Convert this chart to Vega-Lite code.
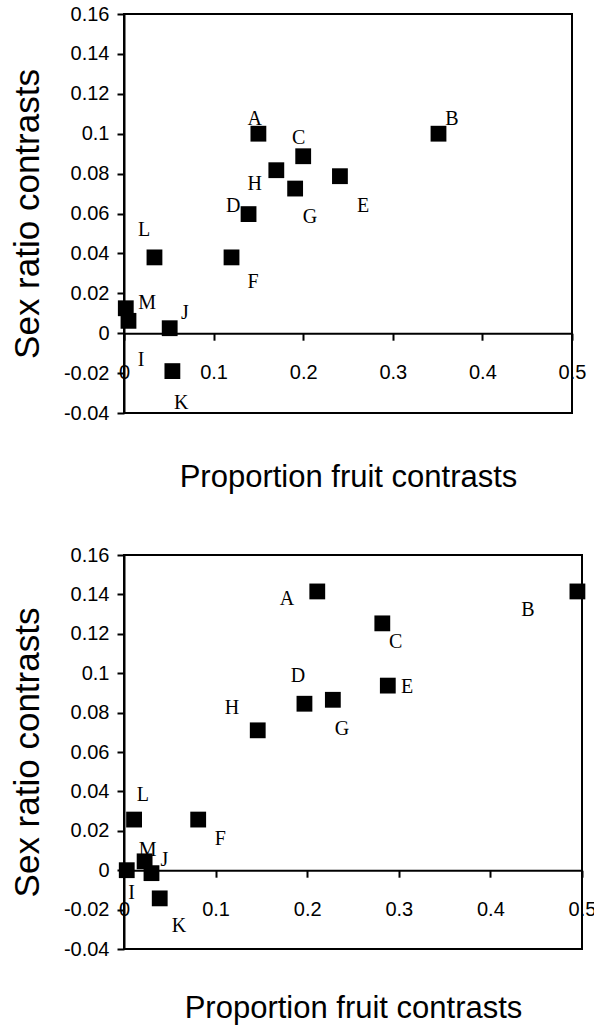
{
  "$schema": "https://vega.github.io/schema/vega-lite/v6.json",
  "background": "white",
  "padding": {"left": 9, "top": 3, "right": 0, "bottom": 5},
  "spacing": 50,
  "config": {
    "view": {"stroke": "black", "strokeWidth": 2},
    "axis": {
      "grid": false,
      "domainColor": "black",
      "domainWidth": 2,
      "tickColor": "black",
      "tickWidth": 2,
      "tickSize": 7,
      "labelColor": "black",
      "titleColor": "black",
      "labelFont": "Liberation Sans",
      "titleFont": "Liberation Sans",
      "titleFontWeight": "normal",
      "labelFontSize": 20
    }
  },
  "datasets": {
    "top": [
      {"label": "A", "x": 0.15, "y": 0.1, "lx": 0.146, "ly": 0.1076},
      {"label": "B", "x": 0.351, "y": 0.1, "lx": 0.366, "ly": 0.1076},
      {"label": "C", "x": 0.2, "y": 0.0887, "lx": 0.195, "ly": 0.0979},
      {"label": "D", "x": 0.139, "y": 0.0597, "lx": 0.122, "ly": 0.0636},
      {"label": "E", "x": 0.241, "y": 0.0787, "lx": 0.267, "ly": 0.0636},
      {"label": "F", "x": 0.12, "y": 0.038, "lx": 0.144, "ly": 0.0256},
      {"label": "G", "x": 0.191, "y": 0.0725, "lx": 0.2075, "ly": 0.0581},
      {"label": "H", "x": 0.17, "y": 0.0817, "lx": 0.146, "ly": 0.0748},
      {"label": "I", "x": 0.005, "y": 0.0062, "lx": 0.019, "ly": -0.0134},
      {"label": "J", "x": 0.051, "y": 0.0025, "lx": 0.068, "ly": 0.01},
      {"label": "K", "x": 0.054, "y": -0.019, "lx": 0.0638, "ly": -0.0351},
      {"label": "L", "x": 0.034, "y": 0.038, "lx": 0.0224, "ly": 0.0519},
      {"label": "M", "x": 0.002, "y": 0.0125, "lx": 0.0258, "ly": 0.0151}
    ],
    "bottom": [
      {"label": "A", "x": 0.211, "y": 0.1415, "lx": 0.178, "ly": 0.1377},
      {"label": "B", "x": 0.495, "y": 0.1415, "lx": 0.441, "ly": 0.132},
      {"label": "C", "x": 0.282, "y": 0.1253, "lx": 0.2967, "ly": 0.1157},
      {"label": "D", "x": 0.197, "y": 0.0845, "lx": 0.19, "ly": 0.0988},
      {"label": "E", "x": 0.288, "y": 0.0937, "lx": 0.309, "ly": 0.0932},
      {"label": "F", "x": 0.081, "y": 0.0257, "lx": 0.1052, "ly": 0.0159},
      {"label": "G", "x": 0.228, "y": 0.0865, "lx": 0.238, "ly": 0.0715},
      {"label": "H", "x": 0.146, "y": 0.071, "lx": 0.118, "ly": 0.0824},
      {"label": "I", "x": 0.003, "y": 0.0, "lx": 0.0084, "ly": -0.0117},
      {"label": "J", "x": 0.03, "y": -0.0015, "lx": 0.044, "ly": 0.0052},
      {"label": "K", "x": 0.039, "y": -0.0143, "lx": 0.06, "ly": -0.0283},
      {"label": "L", "x": 0.011, "y": 0.0257, "lx": 0.0207, "ly": 0.038},
      {"label": "M", "x": 0.0225, "y": 0.0045, "lx": 0.0258, "ly": 0.0103}
    ]
  },
  "vconcat": [
    {
      "width": 448,
      "height": 399,
      "data": {"name": "top"},
      "layer": [
        {
          "mark": {"type": "point", "shape": "square", "filled": true, "color": "black", "opacity": 1, "size": 250},
          "encoding": {
            "x": {
              "field": "x", "type": "quantitative",
              "scale": {"domain": [0, 0.5], "nice": false, "zero": false},
              "axis": {
                "title": "Proportion fruit contrasts",
                "titleFontSize": 31,
                "titlePadding": 80,
                "offset": -79.8,
                "values": [0, 0.1, 0.2, 0.3, 0.4, 0.5],
                "tickCount": 20,
                "format": "~g",
                "labelFlush": false,
                "labelOverlap": false,
                "labelPadding": 22
              }
            },
            "y": {
              "field": "y", "type": "quantitative",
              "scale": {"domain": [-0.04, 0.16], "nice": false, "zero": false},
              "axis": {
                "title": "Sex ratio contrasts",
                "titleFontSize": 35,
                "titlePadding": 18,
                "values": [-0.04, -0.02, 0, 0.02, 0.04, 0.06, 0.08, 0.1, 0.12, 0.14, 0.16],
                "tickCount": 20,
                "labelExpr": "datum.value < 0 ? '-' + format(-datum.value, '~g') : format(datum.value, '~g')",
                "labelPadding": 8,
                "labelFlush": false,
                "labelOverlap": false
              }
            }
          }
        },
        {
          "mark": {"type": "text", "font": "Liberation Serif", "fontSize": 20, "color": "black", "align": "center", "baseline": "middle"},
          "encoding": {
            "x": {"field": "lx", "type": "quantitative"},
            "y": {"field": "ly", "type": "quantitative"},
            "text": {"field": "label"}
          }
        }
      ]
    },
    {
      "width": 458,
      "height": 394,
      "data": {"name": "bottom"},
      "layer": [
        {
          "mark": {"type": "point", "shape": "square", "filled": true, "color": "black", "opacity": 1, "size": 250},
          "encoding": {
            "x": {
              "field": "x", "type": "quantitative",
              "scale": {"domain": [0, 0.5], "nice": false, "zero": false},
              "axis": {
                "title": "Proportion fruit contrasts",
                "titleFontSize": 31,
                "titlePadding": 74,
                "offset": -78.8,
                "values": [0, 0.1, 0.2, 0.3, 0.4, 0.5],
                "tickCount": 20,
                "format": "~g",
                "labelFlush": false,
                "labelOverlap": false,
                "labelPadding": 22
              }
            },
            "y": {
              "field": "y", "type": "quantitative",
              "scale": {"domain": [-0.04, 0.16], "nice": false, "zero": false},
              "axis": {
                "title": "Sex ratio contrasts",
                "titleFontSize": 35,
                "titlePadding": 18,
                "values": [-0.04, -0.02, 0, 0.02, 0.04, 0.06, 0.08, 0.1, 0.12, 0.14, 0.16],
                "tickCount": 20,
                "labelExpr": "datum.value < 0 ? '-' + format(-datum.value, '~g') : format(datum.value, '~g')",
                "labelPadding": 8,
                "labelFlush": false,
                "labelOverlap": false
              }
            }
          }
        },
        {
          "mark": {"type": "text", "font": "Liberation Serif", "fontSize": 20, "color": "black", "align": "center", "baseline": "middle"},
          "encoding": {
            "x": {"field": "lx", "type": "quantitative"},
            "y": {"field": "ly", "type": "quantitative"},
            "text": {"field": "label"}
          }
        }
      ]
    }
  ]
}
